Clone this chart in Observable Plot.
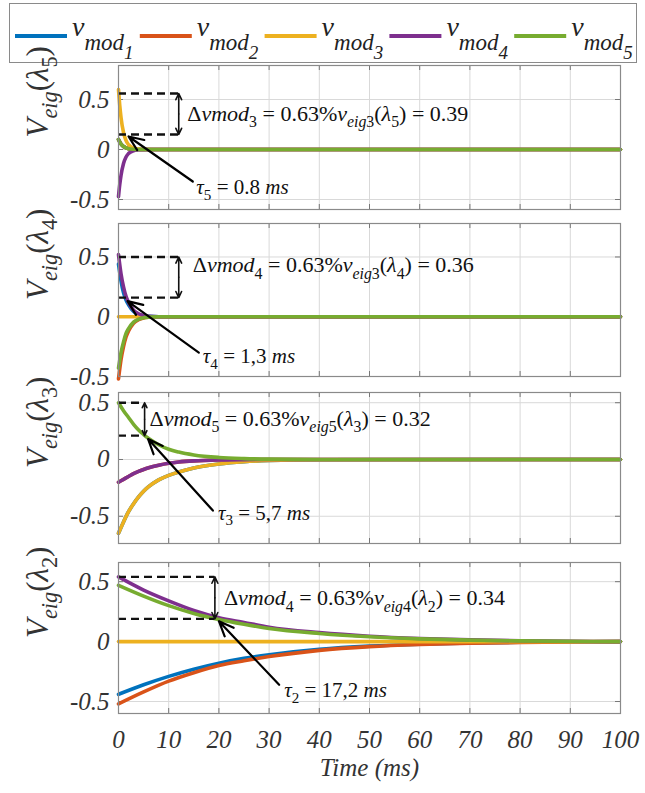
<!DOCTYPE html>
<html><head><meta charset="utf-8">
<script src="https://cdn.jsdelivr.net/npm/d3@7"></script>
<script src="https://cdn.jsdelivr.net/npm/@observablehq/plot@0.6"></script>
<style>
body{margin:0;background:#fff;}
#wrap{position:relative;width:645px;height:793px;overflow:hidden;background:#fff;}
.panel{position:absolute;left:0;}
#legend{position:absolute;left:9px;top:3px;overflow:visible;}
</style></head>
<body><div id="wrap"><svg id="legend" width="628" height="64"></svg></div>
<script>
// ---- data ----
const names = ["mod1", "mod2", "mod3", "mod4", "mod5"];
const colors = ["#0072BD", "#D95319", "#EDB120", "#7E2F8E", "#77AC30"];
const xTicks = [0, 10, 20, 30, 40, 50, 60, 70, 80, 90, 100];
const yTicks = [-0.5, 0, 0.5];

// panel lambda5
const time5 = [0, 0.25, 0.5, 1, 1.5, 2, 3, 4, 5, 7, 100];
const lambda5 = [
  [0.1, 0.075, 0.055, 0.03, 0.016, 0.008, 0.002, 0, 0, 0, 0],
  [0.1, 0.075, 0.055, 0.03, 0.016, 0.008, 0.002, 0, 0, 0, 0],
  [0.6, 0.44, 0.32, 0.17, 0.09, 0.048, 0.014, 0.004, 0.001, 0, 0],
  [-0.47, -0.35, -0.26, -0.14, -0.075, -0.04, -0.012, -0.003, -0.001, 0, 0],
  [0.1, 0.075, 0.055, 0.03, 0.016, 0.008, 0.002, 0, 0, 0, 0]
];
// panel lambda4
const time4 = [0, 0.5, 1, 1.5, 2, 3, 4, 5, 6, 8, 100];
const lambda4 = [
  [0.44, 0.30, 0.2, 0.14, 0.1, 0.045, 0.02, 0.008, 0.003, 0, 0],
  [-0.52, -0.36, -0.25, -0.17, -0.12, -0.055, -0.025, -0.01, -0.004, 0, 0],
  [0, 0, 0, 0, 0, 0, 0, 0, 0, 0, 0],
  [0.52, 0.36, 0.25, 0.17, 0.12, 0.055, 0.025, 0.01, 0.004, 0, 0],
  [-0.43, -0.3, -0.21, -0.14, -0.1, -0.045, -0.02, -0.008, -0.003, 0, 0]
];
// panel lambda3
const time3 = [0, 1, 2, 3, 4, 5, 6, 8, 10, 12, 15, 20, 25, 30, 40, 100];
const lambda3 = [
  [-0.65, -0.55, -0.46, -0.39, -0.33, -0.28, -0.24, -0.18, -0.14, -0.11, -0.075, -0.04, -0.02, -0.009, -0.002, 0],
  [-0.2, -0.175, -0.15, -0.125, -0.105, -0.088, -0.073, -0.05, -0.033, -0.022, -0.012, -0.004, -0.001, 0, 0, 0],
  [-0.65, -0.55, -0.46, -0.39, -0.33, -0.28, -0.24, -0.18, -0.14, -0.11, -0.075, -0.04, -0.02, -0.009, -0.002, 0],
  [-0.2, -0.175, -0.15, -0.125, -0.105, -0.088, -0.073, -0.05, -0.033, -0.022, -0.012, -0.004, -0.001, 0, 0, 0],
  [0.5, 0.43, 0.37, 0.31, 0.26, 0.22, 0.185, 0.13, 0.09, 0.065, 0.04, 0.018, 0.008, 0.003, 0, 0]
];
// panel lambda2
const time2 = [0, 5, 10, 15, 20, 25, 30, 40, 50, 60, 70, 80, 100];
const lambda2 = [
  [-0.44, -0.36, -0.29, -0.23, -0.18, -0.14, -0.11, -0.065, -0.038, -0.022, -0.012, -0.006, 0],
  [-0.52, -0.42, -0.33, -0.26, -0.2, -0.16, -0.125, -0.073, -0.042, -0.024, -0.013, -0.007, 0],
  [0, 0, 0, 0, 0, 0, 0, 0, 0, 0, 0, 0, 0],
  [0.54, 0.43, 0.34, 0.26, 0.2, 0.16, 0.12, 0.075, 0.045, 0.026, 0.014, 0.007, 0],
  [0.47, 0.38, 0.3, 0.235, 0.185, 0.145, 0.11, 0.068, 0.04, 0.023, 0.012, 0.006, 0]
];

// annotations (data units)
const yLabels = ["*V*_{*eig*}(*λ*_{5})", "*V*_{*eig*}(*λ*_{4})", "*V*_{*eig*}(*λ*_{3})", "*V*_{*eig*}(*λ*_{2})"];
const deltaTexts = [
  "Δ*vmod*_{3} = 0.63%*v*_{*eig*3}(*λ*_{5}) = 0.39",
  "Δ*vmod*_{4} = 0.63%*v*_{*eig*3}(*λ*_{4}) = 0.36",
  "Δ*vmod*_{5} = 0.63%*v*_{*eig*5}(*λ*_{3}) = 0.32",
  "Δ*vmod*_{4} = 0.63%*v*_{*eig*4}(*λ*_{2}) = 0.34"
];
const tauTexts = ["*τ*_{5} = 0.8 *ms*", "*τ*_{4} = 1,3 *ms*", "*τ*_{3} = 5,7 *ms*", "*τ*_{2} = 17,2 *ms*"];
const deltaPos = [[13.7, 0.36], [14.8, 0.43], [6.2, 0.36], [21, 0.36]];
const tauPos = [[15.5, -0.38], [16.8, -0.33], [19.8, -0.47], [33, -0.41]];
const dashLevels = [[0.56, 0.15], [0.5, 0.16], [0.5, 0.21], [0.54, 0.19]];
const dashEnd = [12, 12, 5.2, 19.2];
const pointerFrom = [[14.8, -0.32], [16, -0.3], [18.8, -0.45], [32, -0.36]];
const pointerTo = [[2.0, 0.13], [1.8, 0.13], [5.9, 0.18], [20, 0.17]];

// layout
const yDomains = [[-0.6, 0.84], [-0.5, 0.78], [-0.74, 0.59], [-0.6, 0.66]];
const panelTops = [65, 223, 392, 562];
const innerHeights = [144, 153, 151, 151];
const timeSets = [time5, time4, time3, time2];
const valueSets = [lambda5, lambda4, lambda3, lambda2];

const W = 645, ML = 118, MR = 25;
const innerW = W - ML - MR;
const serif = "Liberation Serif, Tinos, DejaVu Serif, serif";

function richify(root) {
  d3.select(root).selectAll("text").each(function() {
    const s = this.textContent;
    if (!/[_*]/.test(s)) return;
    const base = parseFloat(getComputedStyle(this).fontSize);
    const parts = [];
    let italic = false, level = 0, buf = "";
    const flush = () => { if (buf) { parts.push({t: buf, italic, level}); buf = ""; } };
    for (let i = 0; i < s.length; i++) {
      const c = s[i];
      if (c === "*") { flush(); italic = !italic; }
      else if (c === "_" && s[i + 1] === "{") { flush(); level++; i++; }
      else if (c === "}" && level > 0) { flush(); level--; }
      else buf += c;
    }
    flush();
    const el = d3.select(this);
    el.text(null);
    const scale = [1, 0.72, 0.6];
    const off = [0, 0.28, 0.45];
    let prev = 0;
    parts.forEach(p => {
      const dy = (off[p.level] - off[prev]) * base;
      el.append("tspan").text(p.t)
        .attr("font-style", p.italic ? "italic" : "normal")
        .attr("font-size", (scale[p.level] * base).toFixed(2) + "px")
        .attr("dy", dy ? dy.toFixed(2) : null);
      prev = p.level;
    });
  });
}

const wrap = document.getElementById("wrap");

for (let k = 0; k < 4; k++) {
  const last = k === 3;
  const mt = 5, mb = last ? 78 : 5;
  const rows = [];
  valueSets[k].forEach((vals, si) => vals.forEach((v, j) => rows.push({t: timeSets[k][j], v, s: names[si]})));
  const [lo, hi] = dashLevels[k];
  const midY = (lo + hi) / 2;
  const marks = [
    Plot.gridX(xTicks, {stroke: "#d9d9d9", strokeOpacity: 1}),
    Plot.gridY(yTicks, {stroke: "#d9d9d9", strokeOpacity: 1}),
    Plot.ruleX(xTicks, {insetBottom: innerHeights[k] - 5, stroke: "#777"}),
    Plot.ruleX(xTicks, {insetTop: innerHeights[k] - 5, stroke: "#777"}),
    Plot.ruleY(yTicks, {insetRight: innerW - 5, stroke: "#777"}),
    Plot.ruleY(yTicks, {insetLeft: innerW - 5, stroke: "#777"}),
    Plot.axisY(yTicks, {label: null, tickSize: 0, tickPadding: 9, tickFormat: d => String(d), fontSize: 25, fill: "#333"}),
    Plot.line(rows, {x: "t", y: "v", z: "s", stroke: "s", strokeWidth: 3.6, curve: "monotone-x"}),
    Plot.ruleY(dashLevels[k], {y: d => d, x1: 0, x2: dashEnd[k], stroke: "#111", strokeWidth: 2.4, strokeDasharray: "8,5"}),
    Plot.arrow([lo, hi], {x1: dashEnd[k], x2: dashEnd[k], y1: midY, y2: d => d, stroke: "#111", strokeWidth: 1.6, headLength: 9, headAngle: 50}),
    Plot.arrow([0], {x1: pointerFrom[k][0], y1: pointerFrom[k][1], x2: pointerTo[k][0], y2: pointerTo[k][1], stroke: "#000", strokeWidth: 2.2, headLength: 11, headAngle: 45}),
    Plot.text([deltaTexts[k]], {x: deltaPos[k][0], y: deltaPos[k][1], text: d => d, textAnchor: "start", fontSize: 22, fontStyle: "normal", fill: "#111"}),
    Plot.text([tauTexts[k]], {x: tauPos[k][0], y: tauPos[k][1], text: d => d, textAnchor: "start", fontSize: 21, fontStyle: "normal", fill: "#111"}),
    Plot.text([yLabels[k]], {frameAnchor: "left", dx: -80, rotate: -90, text: d => d, fontSize: 31, fill: "#333"}),
    Plot.frame({stroke: "#8a8a8a", strokeWidth: 1.2})
  ];
  if (last) {
    marks.push(Plot.axisX(xTicks, {label: null, tickSize: 0, tickPadding: 17, fontSize: 25, fill: "#333"}));
    marks.push(Plot.text(["Time (ms)"], {frameAnchor: "bottom", dy: 62, text: d => d, fontSize: 25, fill: "#333"}));
  }
  const chart = Plot.plot({
    width: W,
    height: innerHeights[k] + mt + mb,
    marginLeft: ML, marginRight: MR, marginTop: mt, marginBottom: mb,
    x: {domain: [0, 100], axis: null, label: null},
    y: {domain: yDomains[k], axis: null, label: null},
    color: {domain: names, range: colors},
    style: {fontFamily: serif, fontStyle: "italic", fontSize: "24px", background: "transparent", overflow: "visible"},
    marks
  });
  chart.classList.add("panel");
  chart.style.top = (panelTops[k] - mt) + "px";
  wrap.appendChild(chart);
  richify(chart);
}

// legend
const leg = d3.select("#legend");
leg.append("rect").attr("x", 0.5).attr("y", 0.5).attr("width", 627).attr("height", 59)
  .attr("fill", "#fff").attr("stroke", "#8a8a8a");
names.forEach((n, i) => {
  const x0 = 6 + i * 124.8;
  leg.append("line").attr("x1", x0).attr("x2", x0 + 52).attr("y1", 33).attr("y2", 33)
    .attr("stroke", colors[i]).attr("stroke-width", 4);
  const t = leg.append("text").attr("x", x0 + 57).attr("y", 33)
    .attr("font-family", serif).attr("font-style", "italic").attr("fill", "#222");
  t.append("tspan").attr("font-size", 28).text("v");
  t.append("tspan").attr("font-size", 23).attr("dy", 14).text("mod");
  t.append("tspan").attr("font-size", 19).attr("dy", 9).text(n.slice(3));
});
</script></body></html>
